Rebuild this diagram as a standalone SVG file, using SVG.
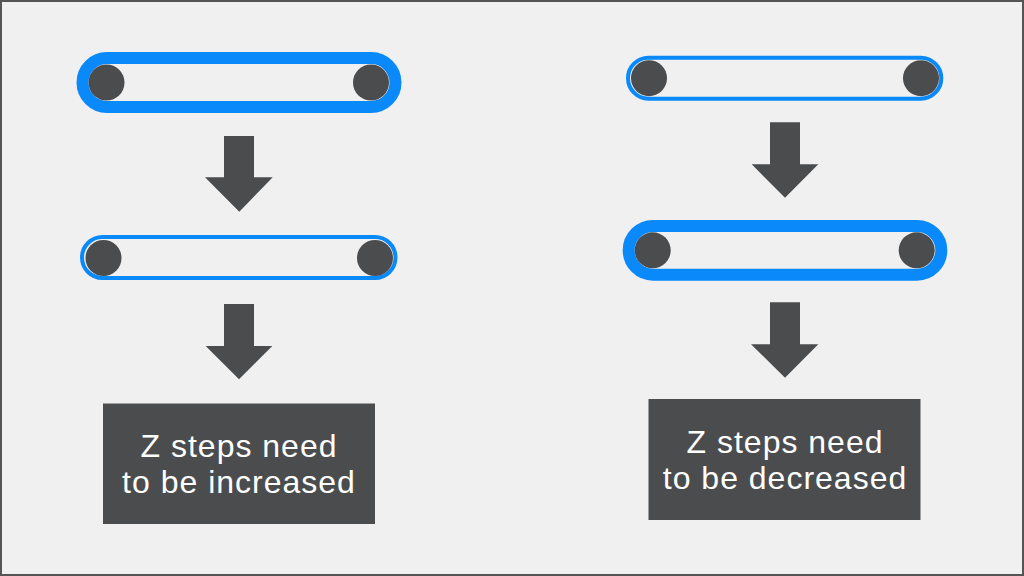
<svg xmlns="http://www.w3.org/2000/svg" width="1024" height="576" viewBox="0 0 1024 576">
<style>
.belt{fill:none;stroke:#0a89fb}
.thick{stroke-width:12}
.thin{stroke-width:4}
.roller{fill:#4b4c4e}
.arrow{fill:#4b4c4e}
.box{fill:#4b4c4e}
.lbl{font-family:"Liberation Sans","DejaVu Sans",sans-serif;font-size:32px;fill:#ffffff;text-anchor:middle;letter-spacing:1px}
</style>
<rect x="1" y="1" width="1022" height="574" fill="#f0f0f0" stroke="#555555" stroke-width="2"/>
<g id="belt-left-top">
<rect class="belt thick" x="82.5" y="58" width="313" height="49" rx="24.5" ry="24.5"/>
<circle class="roller" cx="106.5" cy="82.5" r="18"/>
<circle class="roller" cx="371" cy="82.5" r="18"/>
</g>
<g id="belt-left-middle">
<rect class="belt thin" x="82" y="237" width="313.5" height="41" rx="20.5" ry="20.5"/>
<circle class="roller" cx="103.5" cy="258" r="18"/>
<circle class="roller" cx="375" cy="258" r="18"/>
</g>
<g id="box-left">
<rect class="box" x="103" y="403.5" width="272" height="120.5"/>
<text class="lbl" x="239" y="456.5">Z steps need</text>
<text class="lbl" x="239" y="492.5">to be increased</text>
</g>
<g id="belt-right-top">
<rect class="belt thin" x="628" y="57.7" width="313.3" height="41" rx="20.5" ry="20.5"/>
<circle class="roller" cx="649" cy="78.2" r="18"/>
<circle class="roller" cx="921" cy="78.2" r="18"/>
</g>
<g id="belt-right-middle">
<rect class="belt thick" x="628.7" y="226" width="312.6" height="48.7" rx="24.3" ry="24.3"/>
<circle class="roller" cx="652.7" cy="250.3" r="18"/>
<circle class="roller" cx="916.7" cy="250.3" r="18"/>
</g>
<g id="box-right">
<rect class="box" x="648.5" y="399" width="272" height="121"/>
<text class="lbl" x="785" y="453">Z steps need</text>
<text class="lbl" x="785" y="488.5">to be decreased</text>
</g>
<g id="connectors">
<polygon class="arrow" points="224,136 254,136 254,177.3 272.7,177.3 239.3,211.7 205,177.3 224,177.3"/>
<polygon class="arrow" points="224,304 254,304 254,346 272.3,346 239,379.3 205.7,346 224,346"/>
<polygon class="arrow" points="770,122.3 800,122.3 800,164.3 818.3,164.3 785,197.7 751.7,164.3 770,164.3"/>
<polygon class="arrow" points="770,302.3 800,302.3 800,344.3 818.3,344.3 785,377.7 751,344.3 770,344.3"/>
</g>
</svg>
